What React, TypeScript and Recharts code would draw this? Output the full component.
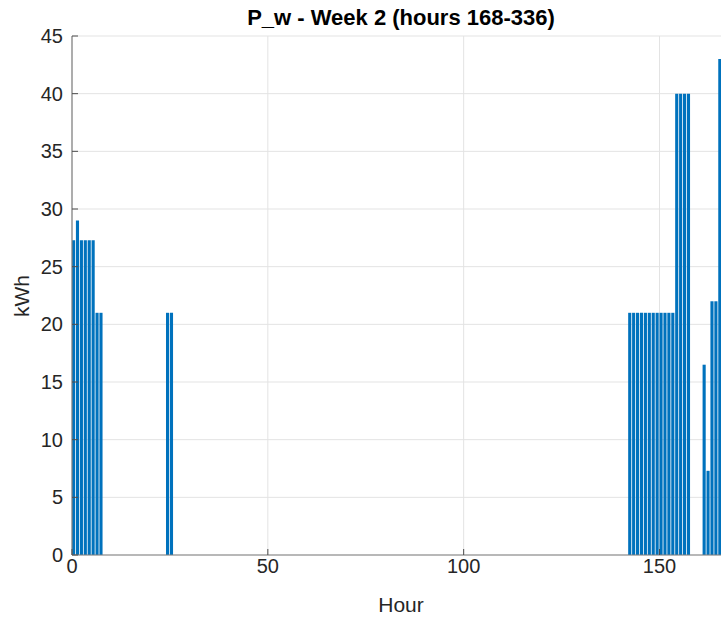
import { BarChart, Bar, XAxis, YAxis, CartesianGrid } from 'recharts'

// hourly P_w for week 2, one array per day (24 h each)
const day1 = [27.3, 29, 27.3, 27.3, 27.3, 27.3, 21, 21, 0, 0, 0, 0, 0, 0, 0, 0, 0, 0, 0, 0, 0, 0, 0, 0]
const day2 = [21, 21, 0, 0, 0, 0, 0, 0, 0, 0, 0, 0, 0, 0, 0, 0, 0, 0, 0, 0, 0, 0, 0, 0]
const day3 = [0, 0, 0, 0, 0, 0, 0, 0, 0, 0, 0, 0, 0, 0, 0, 0, 0, 0, 0, 0, 0, 0, 0, 0]
const day4 = [0, 0, 0, 0, 0, 0, 0, 0, 0, 0, 0, 0, 0, 0, 0, 0, 0, 0, 0, 0, 0, 0, 0, 0]
const day5 = [0, 0, 0, 0, 0, 0, 0, 0, 0, 0, 0, 0, 0, 0, 0, 0, 0, 0, 0, 0, 0, 0, 0, 0]
const day6 = [0, 0, 0, 0, 0, 0, 0, 0, 0, 0, 0, 0, 0, 0, 0, 0, 0, 0, 0, 0, 0, 0, 21, 21]
const day7 = [21, 21, 21, 21, 21, 21, 21, 21, 21, 21, 40, 40, 40, 40, 0, 0, 0, 16.5, 7.3, 22, 22, 43, 0, 0]

const xTicks = [0, 50, 100, 150]
const yTicks = [0, 5, 10, 15, 20, 25, 30, 35, 40, 45]

const kwh = [...day1, ...day2, ...day3, ...day4, ...day5, ...day6, ...day7]
// bars sit in the middle of each hour slot
const data = kwh.map((v, i) => ({ h: i + 0.5, kwh: v }))

const FONT = '"Liberation Sans", Arial, Helvetica, sans-serif'
const INK = '#262626'

const BottomTick = ({ x, y, payload }: any) => (
  <g>
    <line x1={x} y1={y - 4} x2={x} y2={y - 10} stroke="#4d4d4d" />
    <text x={x} y={y} dy="0.71em" textAnchor="middle" fontSize={20} fill={INK} fontFamily={FONT}>
      {payload.value}
    </text>
  </g>
)

const LeftTick = ({ x, y, payload }: any) => (
  <g>
    <line x1={x + 9} y1={y} x2={x + 15} y2={y} stroke="#4d4d4d" />
    <text x={x} y={y} dy="0.355em" textAnchor="end" fontSize={20} fill={INK} fontFamily={FONT}>
      {payload.value}
    </text>
  </g>
)

const TopTick = ({ x, y }: any) => (
  <line x1={x} y1={y} x2={x} y2={y + 6} stroke="#4d4d4d" />
)

export default function App() {
  return (
    <div style={{
      position: 'absolute', left: 0, top: 0, width: 721, height: 617,
      overflow: 'hidden', background: '#ffffff', fontFamily: FONT,
    }}>
      <div style={{
        position: 'absolute', left: 0, width: 802, top: 5, textAlign: 'center',
        fontSize: 22, fontWeight: 700, color: '#000', whiteSpace: 'nowrap',
      }}>
        P_w - Week 2 (hours 168-336)
      </div>
      <div style={{
        position: 'absolute', left: 0, width: 802, top: 593, textAlign: 'center',
        fontSize: 21, color: INK,
      }}>
        Hour
      </div>
      <div style={{
        position: 'absolute', left: 22, top: 296, transform: 'translate(-50%, -50%) rotate(-90deg)',
        fontSize: 21, color: INK, whiteSpace: 'nowrap',
      }}>
        kWh
      </div>

      <div style={{ position: 'absolute', left: 0, top: 0 }}>
        <BarChart width={740} height={617} data={data} margin={{ top: 36, right: 10, bottom: 32, left: 12 }}>
          <CartesianGrid stroke="#e3e3e3" />
          <XAxis
            dataKey="h"
            type="number"
            domain={[0, 168]}
            ticks={xTicks}
            height={30}
            tickSize={0}
            tickMargin={4}
            tickLine={false}
            axisLine={{ stroke: '#808080', strokeWidth: 1.2 }}
            tick={<BottomTick />}
            interval={0}
          />
          <XAxis
            xAxisId="top"
            orientation="top"
            dataKey="h"
            type="number"
            domain={[0, 168]}
            ticks={xTicks}
            height={0}
            tickSize={0}
            tickMargin={0}
            tickLine={false}
            axisLine={{ stroke: '#808080', strokeWidth: 1.2 }}
            tick={<TopTick />}
            interval={0}
          />
          <YAxis
            type="number"
            domain={[0, 45]}
            ticks={yTicks}
            width={60}
            tickSize={0}
            tickMargin={9}
            tickLine={false}
            axisLine={{ stroke: '#808080', strokeWidth: 1.2 }}
            tick={<LeftTick />}
            interval={0}
          />
          <Bar dataKey="kwh" fill="#0072BD" barSize={3.13} isAnimationActive={false} />
        </BarChart>
      </div>
    </div>
  )
}
